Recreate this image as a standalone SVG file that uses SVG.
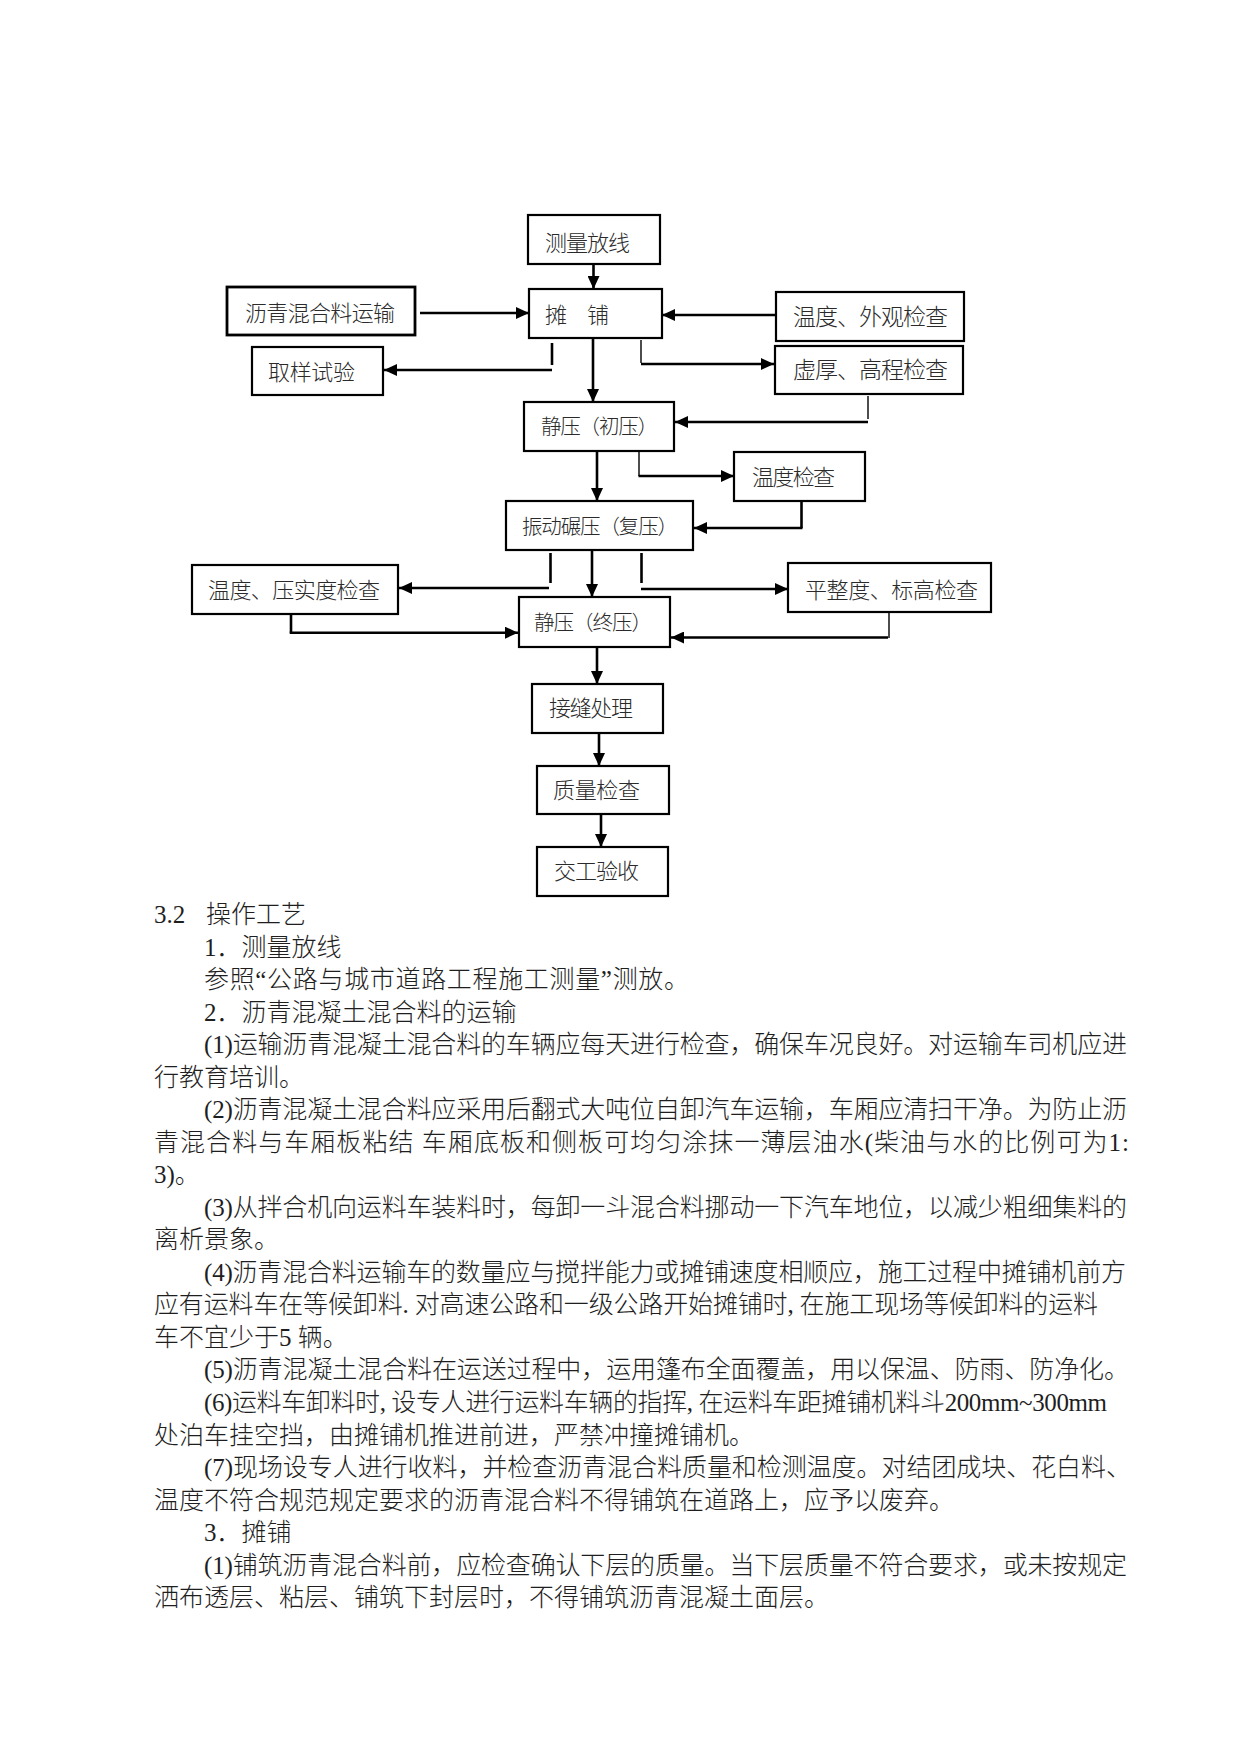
<svg xmlns="http://www.w3.org/2000/svg" width="1241" height="1754" viewBox="0 0 1241 1754">
<defs>
<style>
.box{fill:#fff;stroke:#000;stroke-width:2.2}
.lbl{font-family:"Liberation Serif","Noto Sans CJK SC",serif;font-size:22px;font-weight:300;fill:#2a2a2a}
.lbl2{font-family:"Liberation Serif","Noto Sans CJK SC",serif;font-size:23px;font-weight:300;fill:#2a2a2a}
.lbl3{font-family:"Liberation Serif","Noto Sans CJK SC",serif;font-size:20.5px;font-weight:300;fill:#2a2a2a}
.ln{fill:none;stroke:#000;stroke-width:2.6}
.thin{fill:none;stroke:#000;stroke-width:1.4}
.arr{fill:none;stroke:#000;stroke-width:2.6;marker-end:url(#ah)}
.body{font-family:"Liberation Serif","Noto Sans CJK SC",serif;font-size:25px;font-weight:300;fill:#1e1e1e}
</style>
<marker id="ah" markerUnits="userSpaceOnUse" markerWidth="14" markerHeight="12" refX="13" refY="6" orient="auto">
<path d="M0,0 L13,6 L0,12 z" fill="#000"/>
</marker>
</defs>
<rect width="1241" height="1754" fill="#fff"/>

<g id="n-celiang"><rect class="box" x="528" y="215" width="132" height="49"/><text class="lbl" x="545" y="251" textLength="85">测量放线</text></g>
<g id="n-tanpu"><rect class="box" x="529" y="289" width="133" height="49"/><text class="lbl" x="545" y="323" textLength="64">摊　铺</text></g>
<g id="n-yunshu"><rect class="box" x="227" y="287" width="188" height="48" style="stroke-width:2.8"/><text class="lbl" x="245" y="321" textLength="150">沥青混合料运输</text></g>
<g id="n-waiguan"><rect class="box" x="776" y="292" width="188" height="49"/><text class="lbl2" x="793" y="325" textLength="155">温度、外观检查</text></g>
<g id="n-quyang"><rect class="box" x="252" y="347" width="131" height="48"/><text class="lbl" x="268" y="380" textLength="87">取样试验</text></g>
<g id="n-xuhou"><rect class="box" x="775" y="346" width="188" height="48"/><text class="lbl2" x="793" y="378" textLength="155">虚厚、高程检查</text></g>
<g id="n-chuya"><rect class="box" x="524" y="402" width="150" height="49"/><text class="lbl3" x="541" y="434" textLength="117">静压（初压）</text></g>
<g id="n-wendu"><rect class="box" x="734" y="452" width="131" height="49"/><text class="lbl" x="752" y="485" textLength="83">温度检查</text></g>
<g id="n-fuya"><rect class="box" x="506" y="501" width="187" height="49"/><text class="lbl3" x="522" y="534" textLength="156">振动碾压（复压）</text></g>
<g id="n-yashidu"><rect class="box" x="192" y="565" width="206" height="49"/><text class="lbl" x="208" y="598" textLength="172">温度、压实度检查</text></g>
<g id="n-pingzheng"><rect class="box" x="788" y="563" width="203" height="49"/><text class="lbl" x="805" y="598" textLength="173">平整度、标高检查</text></g>
<g id="n-zhongya"><rect class="box" x="519" y="597" width="151" height="50"/><text class="lbl3" x="534" y="630" textLength="118">静压（终压）</text></g>
<g id="n-jiefeng"><rect class="box" x="532" y="684" width="131" height="49"/><text class="lbl" x="549" y="716" textLength="84">接缝处理</text></g>
<g id="n-zhiliang"><rect class="box" x="537" y="766" width="132" height="48"/><text class="lbl" x="553" y="798" textLength="87">质量检查</text></g>
<g id="n-jiaogong"><rect class="box" x="537" y="847" width="131" height="49"/><text class="lbl" x="554" y="879" textLength="85">交工验收</text></g>

<g id="connectors">
<path class="arr" d="M593.5,264 V289"/>
<path class="arr" d="M420,313 H529"/>
<path class="arr" d="M776,315 H662"/>
<path class="ln" d="M552,343 V365"/>
<path class="arr" d="M552,370 H384"/>
<path class="thin" d="M641,340 V363"/>
<path class="arr" d="M641,364 H774"/>
<path class="arr" d="M593,338 V402"/>
<path class="thin" d="M868,396 V419"/>
<path class="arr" d="M868,422 H675"/>
<path class="thin" d="M639,451 V476"/>
<path class="arr" d="M638.5,476 H734"/>
<path class="arr" d="M597,451 V501"/>
<path class="ln" d="M801.5,501 V528"/>
<path class="arr" d="M802.5,528 H694"/>
<path class="ln" d="M550.5,553 V583"/>
<path class="arr" d="M549,588 H399"/>
<path class="arr" d="M592,550 V597"/>
<path class="ln" d="M641.5,553 V583"/>
<path class="arr" d="M641,589 H788"/>
<path class="ln" d="M291,614 V632.7"/>
<path class="arr" d="M289.7,632.7 H518"/>
<path class="thin" d="M889,612 V638"/>
<path class="arr" d="M888,637.5 H671"/>
<path class="arr" d="M597,647 V684"/>
<path class="arr" d="M599,733 V766"/>
<path class="arr" d="M601,814 V847"/>
</g>

<g id="body-text">
<text class="body" x="154" y="923">3.2<tspan x="206">操作工艺</tspan></text>
<text class="body" x="204" y="955.5">1．测量放线</text>
<text class="body" x="204" y="988" textLength="485" lengthAdjust="spacing">参照“公路与城市道路工程施工测量”测放。</text>
<text class="body" x="204" y="1020.6">2．沥青混凝土混合料的运输</text>
<text class="body" x="204" y="1053" textLength="923" lengthAdjust="spacing">(1)运输沥青混凝土混合料的车辆应每天进行检查，确保车况良好。对运输车司机应进</text>
<text class="body" x="154" y="1085.6">行教育培训。</text>
<text class="body" x="204" y="1118" textLength="923" lengthAdjust="spacing">(2)沥青混凝土混合料应采用后翻式大吨位自卸汽车运输，车厢应清扫干净。为防止沥</text>
<text class="body" x="154" y="1150.7" textLength="975" lengthAdjust="spacing">青混合料与车厢板粘结 车厢底板和侧板可均匀涂抹一薄层油水(柴油与水的比例可为1:</text>
<text class="body" x="154" y="1183">3)。</text>
<text class="body" x="204" y="1215.8" textLength="923" lengthAdjust="spacing">(3)从拌合机向运料车装料时，每卸一斗混合料挪动一下汽车地位，以减少粗细集料的</text>
<text class="body" x="154" y="1248">离析景象。</text>
<text class="body" x="204" y="1280.8" textLength="922" lengthAdjust="spacing">(4)沥青混合料运输车的数量应与搅拌能力或摊铺速度相顺应，施工过程中摊铺机前方</text>
<text class="body" x="154" y="1313" textLength="944" lengthAdjust="spacing">应有运料车在等候卸料. 对高速公路和一级公路开始摊铺时, 在施工现场等候卸料的运料</text>
<text class="body" x="154" y="1345.9">车不宜少于5 辆。</text>
<text class="body" x="204" y="1378.4" textLength="925" lengthAdjust="spacing">(5)沥青混凝土混合料在运送过程中，运用篷布全面覆盖，用以保温、防雨、防净化。</text>
<text class="body" x="204" y="1411" textLength="903" lengthAdjust="spacing">(6)运料车卸料时, 设专人进行运料车辆的指挥, 在运料车距摊铺机料斗200mm~300mm</text>
<text class="body" x="154" y="1443.5">处泊车挂空挡，由摊铺机推进前进，严禁冲撞摊铺机。</text>
<text class="body" x="204" y="1476" textLength="927" lengthAdjust="spacing">(7)现场设专人进行收料，并检查沥青混合料质量和检测温度。对结团成块、花白料、</text>
<text class="body" x="154" y="1508.5">温度不符合规范规定要求的沥青混合料不得铺筑在道路上，应予以废弃。</text>
<text class="body" x="204" y="1541">3．摊铺</text>
<text class="body" x="204" y="1573.6" textLength="923" lengthAdjust="spacing">(1)铺筑沥青混合料前，应检查确认下层的质量。当下层质量不符合要求，或未按规定</text>
<text class="body" x="154" y="1606">洒布透层、粘层、铺筑下封层时，不得铺筑沥青混凝土面层。</text>
</g>
</svg>
